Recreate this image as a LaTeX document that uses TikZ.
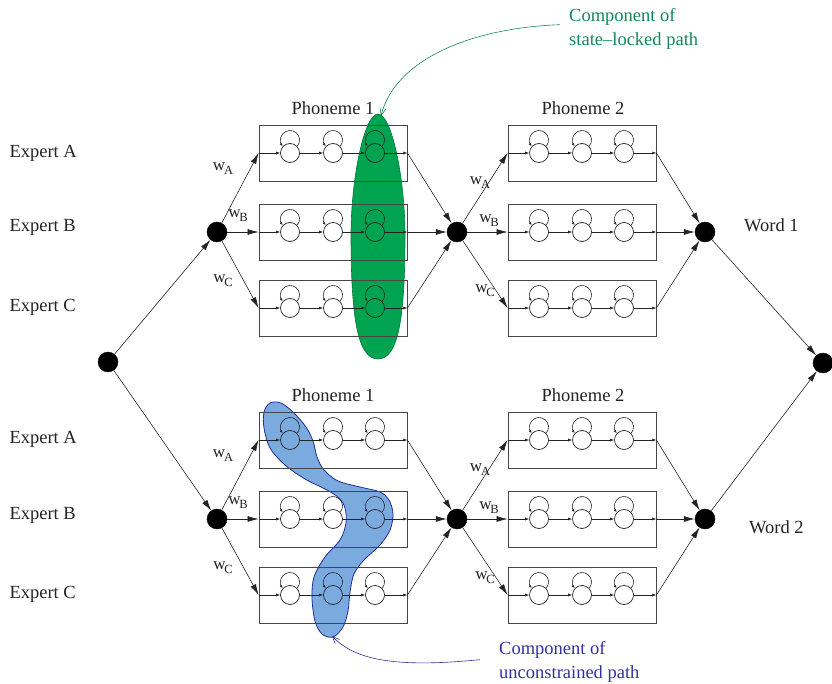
\documentclass[tikz,border=0pt]{standalone}
\usepackage{fontspec}
\setmainfont{Liberation Serif}
\usetikzlibrary{arrows.meta}
\definecolor{lk}{RGB}{35,35,35}
\definecolor{bx}{RGB}{70,70,70}
\definecolor{gfill}{RGB}{0,163,80}
\definecolor{gline}{RGB}{0,120,60}
\definecolor{gtext}{RGB}{20,135,85}
\definecolor{bfill}{RGB}{122,170,222}
\definecolor{bline}{RGB}{35,45,150}
\definecolor{btext}{RGB}{50,50,160}
\tikzset{
  junc/.style={circle,fill=black,draw=black,minimum size=20pt,inner sep=0pt},
  phbox/.style={rectangle,draw=bx,line width=0.8pt,minimum width=148pt,minimum height=56pt,inner sep=0pt},
  st/.style={circle,draw=lk,line width=0.7pt,minimum size=19pt,inner sep=0pt},
  big/.style={-{Latex[length=11pt,width=6pt]},line width=0.6pt,draw=lk},
  small/.style={-{Latex[length=4pt,width=3pt]},line width=0.6pt,draw=lk},
  loopst/.style={-{Latex[length=3pt,width=2.5pt]},line width=0.6pt,draw=lk},
  lbl/.style={font=\fontsize{18.5}{22}\selectfont,text=lk,inner sep=0pt},
  wlab/.style={font=\fontsize{17}{17}\selectfont,text=lk,inner sep=0pt},
  ann/.style={font=\fontsize{18.5}{24}\selectfont,align=left,inner sep=0pt},
}
\newcommand{\wsub}[1]{w\kern-1.2pt\raisebox{-4pt}{\fontsize{12.5}{12.5}\selectfont #1}}
\newcommand{\phonbox}[3]{%
  \node[phbox] (#1) at (#2,#3) {};
  \node[st] (#1-1) at (#2-43,#3) {};
  \node[st] (#1-2) at (#2,#3) {};
  \node[st] (#1-3) at (#2+42,#3) {};
  \foreach \k in {1,2,3} {\draw[loopst] ([shift={(7.3,-6.9)}]#1-\k.center) arc[start angle=40,end angle=-220,radius=9.5];}
  \draw[small] (#1.west) -- (#1-1);
  \draw[small] (#1-1) -- (#1-2);
  \draw[small] (#1-2) -- (#1-3);
  \draw[small] (#1-3) -- (#1.east);
}
\begin{document}
\begin{tikzpicture}[x=1pt,y=-1pt]
\useasboundingbox (0,0) rectangle (832,684);

% highlighted components (behind)
\filldraw[fill=gfill,draw=gline,line width=0.6pt]
  (378,114) .. controls (392,114) and (405,180) .. (405,235)
  .. controls (405,320) and (398,359) .. (378,359)
  .. controls (358,359) and (351,320) .. (351,235)
  .. controls (351,180) and (364,114) .. (378,114) -- cycle;
\filldraw[fill=bfill,draw=bline,line width=0.8pt] plot[smooth cycle,tension=0.55] coordinates {
  (270,403) (281,403) (294,413) (306,427) (313,441) (317,457) (324,470) (338,481)
  (360,487) (380,492) (389,500) (393,514) (390,530) (380,545) (364,560) (354,574)
  (350,592) (348,611) (343,627) (333,637) (322,634) (315,621) (312,598) (314,577)
  (325,557) (340,540) (346,523) (345,508) (339,498) (327,490) (305,479) (285,465)
  (270,448) (264,428) (264,412)};

% phoneme boxes
\phonbox{p1uA}{333}{153}
\phonbox{p1uB}{333}{232}
\phonbox{p1uC}{333}{308}
\phonbox{p2uA}{582}{153}
\phonbox{p2uB}{582}{232}
\phonbox{p2uC}{582}{308}
\phonbox{p1lA}{333}{440}
\phonbox{p1lB}{333}{519}
\phonbox{p1lC}{333}{595}
\phonbox{p2lA}{582}{440}
\phonbox{p2lB}{582}{519}
\phonbox{p2lC}{582}{595}

% junctions
\node[junc] (J0) at (108,362) {};
\node[junc] (J1u) at (217,232) {};
\node[junc] (J2u) at (457,232) {};
\node[junc] (J3u) at (705,232) {};
\node[junc] (J1l) at (217,519) {};
\node[junc] (J2l) at (457,519) {};
\node[junc] (J3l) at (705,519) {};
\node[junc] (JF) at (823,363) {};

% connectors
\draw[big] (J0) -- (J1u);
\draw[big] (J0) -- (J1l);
\foreach \h in {u,l} {
  \foreach \r in {A,B,C} {
    \draw[big] (J1\h) -- (p1\h\r.west);
    \draw[big] (p1\h\r.east) -- (J2\h);
    \draw[big] (J2\h) -- (p2\h\r.west);
    \draw[big] (p2\h\r.east) -- (J3\h);
  }
}
\draw[big] (J3u) -- (JF);
\draw[big] (J3l) -- (JF);

% weights
\node[wlab] (wa1u) at (223,169) {\wsub{A}};
\node[wlab] (wb1u) at (238,216) {\wsub{B}};
\node[wlab] (wc1u) at (223,281) {\wsub{C}};
\node[wlab] (wa2u) at (480,183) {\wsub{A}};
\node[wlab] (wb2u) at (489,221) {\wsub{B}};
\node[wlab] (wc2u) at (485,291) {\wsub{C}};
\node[wlab] (wa1l) at (223,456) {\wsub{A}};
\node[wlab] (wb1l) at (238,503) {\wsub{B}};
\node[wlab] (wc1l) at (223,568) {\wsub{C}};
\node[wlab] (wa2l) at (480,470) {\wsub{A}};
\node[wlab] (wb2l) at (489,508) {\wsub{B}};
\node[wlab] (wc2l) at (485,578) {\wsub{C}};

% labels
\node[lbl,anchor=base west] (eAu) at (9.3,157.5) {Expert A};
\node[lbl,anchor=base west] (eBu) at (9.3,231.7) {Expert B};
\node[lbl,anchor=base west] (eCu) at (9.3,311.7) {Expert C};
\node[lbl,anchor=base west] (eAl) at (9.3,443.8) {Expert A};
\node[lbl,anchor=base west] (eBl) at (9.3,519.5) {Expert B};
\node[lbl,anchor=base west] (eCl) at (9.3,598.6) {Expert C};
\node[lbl,anchor=base] (ph1u) at (333,114.5) {Phoneme 1};
\node[lbl,anchor=base] (ph2u) at (583,114.5) {Phoneme 2};
\node[lbl,anchor=base] (ph1l) at (333,401.5) {Phoneme 1};
\node[lbl,anchor=base] (ph2l) at (583,401.5) {Phoneme 2};
\node[lbl,anchor=base west] (wd1) at (744,231.7) {Word 1};
\node[lbl,anchor=base west] (wd2) at (749,533) {Word 2};

% annotations
\coordinate (gtip) at (381,116);
\node[ann,text=gtext,anchor=north west] (gnote) at (569,8) {Component of\\state–locked path};
\draw[gtext,line width=0.6pt,-{Straight Barb[length=7pt,width=6pt]}]
  ([xshift=-9pt,yshift=4pt]gnote.west) .. controls (470,28) and (395,60) .. (gtip);
\coordinate (btip) at (332,636);
\node[ann,text=btext,anchor=north west] (bnote) at (499,641) {Component of\\unconstrained path};
\draw[btext,line width=0.6pt,-{Straight Barb[length=7pt,width=6pt]}]
  ([xshift=-19pt,yshift=2pt]bnote.west) .. controls (395,668) and (355,660) .. (btip);
\end{tikzpicture}
\end{document}
